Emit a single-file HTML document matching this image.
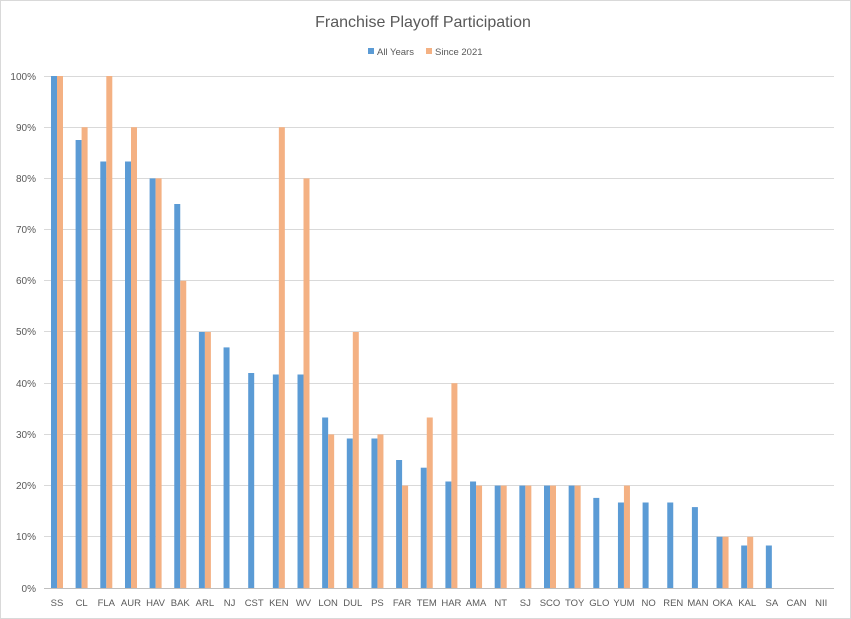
<!DOCTYPE html>
<html><head><meta charset="utf-8"><style>
html,body{margin:0;padding:0;background:#fff;}
svg{display:block;font-family:"Liberation Sans",Arial,sans-serif;}
</style></head><body>
<svg width="851" height="619" viewBox="0 0 851 619" xmlns="http://www.w3.org/2000/svg">
<rect x="0.5" y="0.5" width="850" height="618" fill="#fff" stroke="#d9d9d9"/>
<text x="423" y="27" font-size="16" fill="#595959" text-anchor="middle">Franchise Playoff Participation</text>
<rect x="368" y="48" width="6" height="6" fill="#5B9BD5"/>
<text x="377" y="55" font-size="9.5" fill="#595959">All Years</text>
<rect x="426" y="48" width="6" height="6" fill="#F4B183"/>
<text x="435" y="55" font-size="9.5" fill="#595959">Since 2021</text>
<g stroke="#d9d9d9" stroke-width="1">
<line x1="44" x2="834" y1="76.5" y2="76.5"/><line x1="44" x2="834" y1="127.5" y2="127.5"/>
<line x1="44" x2="834" y1="178.5" y2="178.5"/><line x1="44" x2="834" y1="229.5" y2="229.5"/>
<line x1="44" x2="834" y1="280.5" y2="280.5"/><line x1="44" x2="834" y1="331.5" y2="331.5"/>
<line x1="44" x2="834" y1="383.5" y2="383.5"/><line x1="44" x2="834" y1="434.5" y2="434.5"/>
<line x1="44" x2="834" y1="485.5" y2="485.5"/><line x1="44" x2="834" y1="536.5" y2="536.5"/>
<line x1="44" x2="834" y1="588.5" y2="588.5" stroke="#bfbfbf"/>
</g>
<g font-size="10" fill="#595959" text-anchor="end">
<text x="36" y="80">100%</text><text x="36" y="131">90%</text><text x="36" y="182">80%</text>
<text x="36" y="233">70%</text><text x="36" y="284">60%</text><text x="36" y="335">50%</text>
<text x="36" y="387">40%</text><text x="36" y="438">30%</text><text x="36" y="489">20%</text>
<text x="36" y="540">10%</text><text x="36" y="592">0%</text>
</g>
<g fill="#5B9BD5">
<rect x="51" y="76" width="6" height="512"/>
<rect x="75.6" y="140" width="6" height="448"/>
<rect x="100.3" y="161.5" width="6" height="426.5"/>
<rect x="125" y="161.5" width="6" height="426.5"/>
<rect x="149.6" y="178.4" width="6" height="409.6"/>
<rect x="174.25" y="204" width="6" height="384"/>
<rect x="198.9" y="332" width="6" height="256"/>
<rect x="223.55" y="347.4" width="6" height="240.6"/>
<rect x="248.2" y="373" width="6" height="215"/>
<rect x="272.85" y="374.5" width="6" height="213.5"/>
<rect x="297.5" y="374.5" width="6" height="213.5"/>
<rect x="322.15" y="417.5" width="6" height="170.5"/>
<rect x="346.8" y="438.5" width="6" height="149.5"/>
<rect x="371.45" y="438.5" width="6" height="149.5"/>
<rect x="396.1" y="460" width="6" height="128"/>
<rect x="420.75" y="467.7" width="6" height="120.3"/>
<rect x="445.4" y="481.5" width="6" height="106.5"/>
<rect x="470.05" y="481.5" width="6" height="106.5"/>
<rect x="494.7" y="485.6" width="6" height="102.4"/>
<rect x="519.35" y="485.6" width="6" height="102.4"/>
<rect x="544" y="485.6" width="6" height="102.4"/>
<rect x="568.65" y="485.6" width="6" height="102.4"/>
<rect x="593.3" y="497.9" width="6" height="90.1"/>
<rect x="617.95" y="502.5" width="6" height="85.5"/>
<rect x="642.6" y="502.5" width="6" height="85.5"/>
<rect x="667.25" y="502.5" width="6" height="85.5"/>
<rect x="691.9" y="507.1" width="6" height="80.9"/>
<rect x="716.55" y="536.8" width="6" height="51.2"/>
<rect x="741.2" y="545.5" width="6" height="42.5"/>
<rect x="765.85" y="545.5" width="6" height="42.5"/>
</g>
<g fill="#F4B183">
<rect x="57" y="76" width="6" height="512"/>
<rect x="81.6" y="127.2" width="6" height="460.8"/>
<rect x="106.3" y="76" width="6" height="512"/>
<rect x="131" y="127.2" width="6" height="460.8"/>
<rect x="155.6" y="178.4" width="6" height="409.6"/>
<rect x="180.25" y="280.8" width="6" height="307.2"/>
<rect x="204.9" y="332" width="6" height="256"/>
<rect x="278.85" y="127.2" width="6" height="460.8"/>
<rect x="303.5" y="178.4" width="6" height="409.6"/>
<rect x="328.15" y="434.4" width="6" height="153.6"/>
<rect x="352.8" y="332" width="6" height="256"/>
<rect x="377.45" y="434.4" width="6" height="153.6"/>
<rect x="402.1" y="485.6" width="6" height="102.4"/>
<rect x="426.75" y="417.5" width="6" height="170.5"/>
<rect x="451.4" y="383.2" width="6" height="204.8"/>
<rect x="476.05" y="485.6" width="6" height="102.4"/>
<rect x="500.7" y="485.6" width="6" height="102.4"/>
<rect x="525.35" y="485.6" width="6" height="102.4"/>
<rect x="550" y="485.6" width="6" height="102.4"/>
<rect x="574.65" y="485.6" width="6" height="102.4"/>
<rect x="623.95" y="485.6" width="6" height="102.4"/>
<rect x="722.55" y="536.8" width="6" height="51.2"/>
<rect x="747.2" y="536.8" width="6" height="51.2"/>
</g>
<g font-size="9.5" fill="#595959" text-anchor="middle">
<text x="57" y="606">SS</text><text x="81.65" y="606">CL</text><text x="106.3" y="606">FLA</text>
<text x="130.95" y="606">AUR</text><text x="155.6" y="606">HAV</text><text x="180.25" y="606">BAK</text>
<text x="204.9" y="606">ARL</text><text x="229.55" y="606">NJ</text><text x="254.2" y="606">CST</text>
<text x="278.85" y="606">KEN</text><text x="303.5" y="606">WV</text><text x="328.15" y="606">LON</text>
<text x="352.8" y="606">DUL</text><text x="377.45" y="606">PS</text><text x="402.1" y="606">FAR</text>
<text x="426.75" y="606">TEM</text><text x="451.4" y="606">HAR</text><text x="476.05" y="606">AMA</text>
<text x="500.7" y="606">NT</text><text x="525.35" y="606">SJ</text><text x="550" y="606">SCO</text>
<text x="574.65" y="606">TOY</text><text x="599.3" y="606">GLO</text><text x="623.95" y="606">YUM</text>
<text x="648.6" y="606">NO</text><text x="673.25" y="606">REN</text><text x="697.9" y="606">MAN</text>
<text x="722.55" y="606">OKA</text><text x="747.2" y="606">KAL</text><text x="771.85" y="606">SA</text>
<text x="796.5" y="606">CAN</text><text x="821.15" y="606">NII</text>
</g>
</svg>
</body></html>
